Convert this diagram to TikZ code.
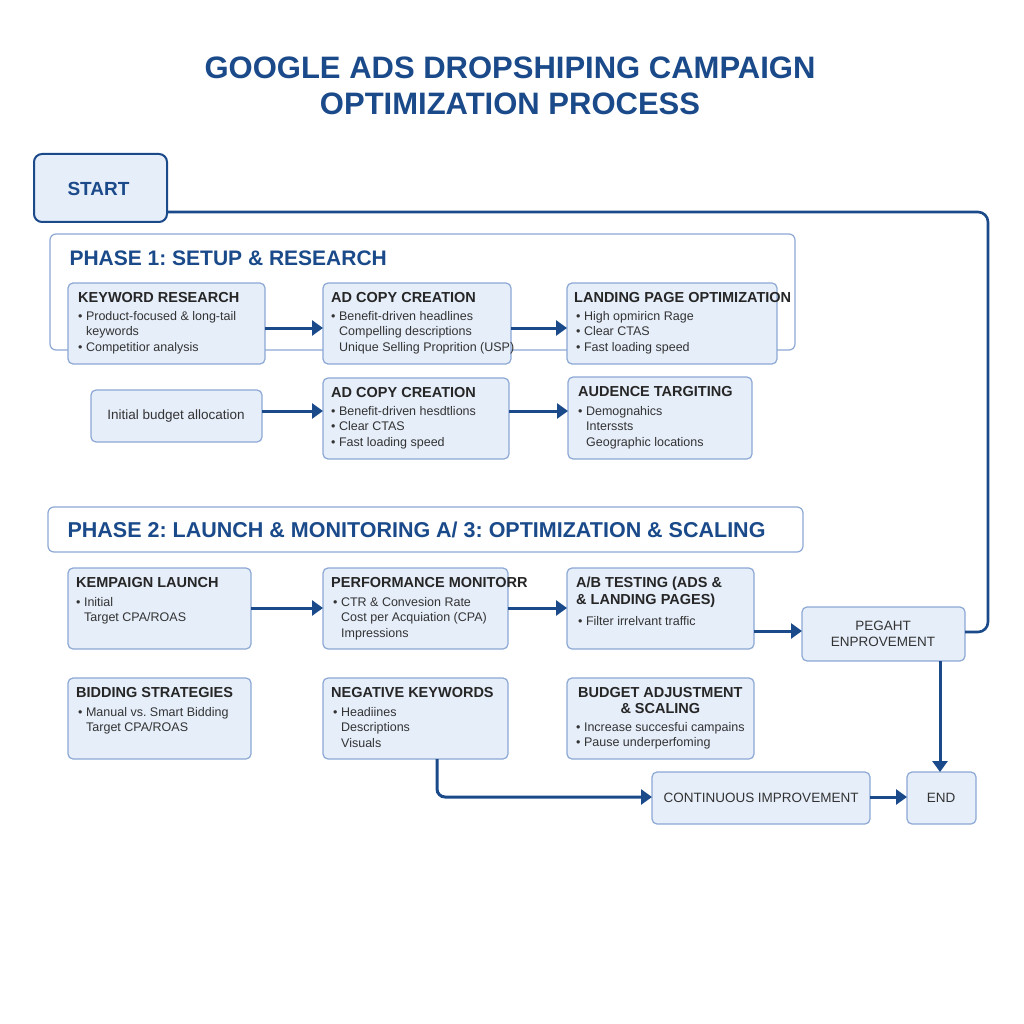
\documentclass[tikz,border=0pt]{standalone}
\usepackage{fontspec}
\setmainfont{Liberation Sans}
\usetikzlibrary{arrows.meta}
\definecolor{navy}{HTML}{1A4A8A}
\definecolor{bfill}{HTML}{E6EEFA}
\definecolor{bdraw}{HTML}{8CA8D4}
\frenchspacing
\begin{document}
\begin{tikzpicture}[x=1pt,y=-1pt,
 box/.style={draw=bdraw,fill=bfill,rounded corners=5pt,line width=1.2pt},
 hd/.style={anchor=north west,font=\fontsize{14.5}{16.5}\selectfont\bfseries,text=black!85,inner sep=0},
 bd/.style={anchor=north west,font=\fontsize{12.5}{15.5}\selectfont,text=black!80,inner sep=0,align=left},
 ct/.style={font=\fontsize{13.5}{16.5}\selectfont,text=black!80,align=center},
 arr/.style={draw=navy,line width=3pt,-{Triangle[length=11pt,width=15pt]}},
 ln/.style={draw=navy,line width=2.6pt,rounded corners=10pt}]
\useasboundingbox (0,0) rectangle (1024,1024);
\fill[white] (0,0) rectangle (1024,1024);
\node[font=\fontsize{31}{36}\selectfont\bfseries,text=navy,align=center] (title) at (510,86) {GOOGLE ADS DROPSHIPING CAMPAIGN\\OPTIMIZATION PROCESS};
% start
\draw[box,draw=navy,line width=2pt,rounded corners=8pt] (34,154) rectangle (167,222);
\node[font=\fontsize{19}{22}\selectfont\bfseries,text=navy,anchor=west] (start) at (64,189) {START};
\coordinate (sr) at (167,212);
% phase 1 frame
\draw[draw=bdraw,fill=white,rounded corners=6pt,line width=1.2pt] (50,234) rectangle (795,350);
\node[font=\fontsize{21}{24}\selectfont\bfseries,text=navy,anchor=west] (p1) at (66,258) {PHASE 1: SETUP \& RESEARCH};
% row 1
\draw[box] (68,283) rectangle (265,364); \coordinate (kr) at (265,328);
\node[hd] (k1) at (78,292) {KEYWORD RESEARCH};
\node[bd] at (78,311) {• Product-focused \& long-tail\\\hspace*{8pt}keywords\\• Competitior analysis};
\draw[box] (323,283) rectangle (511,364); \coordinate (a1l) at (323,328); \coordinate (a1r) at (511,328);
\node[hd] at (331,292) {AD COPY CREATION};
\node[bd] at (331,311) {• Benefit-driven headlines\\\hspace*{8pt}Compelling descriptions\\\hspace*{8pt}Unique Selling Proprition (USP)};
\draw[box] (567,283) rectangle (777,364); \coordinate (lpl) at (567,328);
\node[hd] at (574,292) {LANDING PAGE OPTIMIZATION};
\node[bd] at (576,311) {• High opmiricn Rage\\• Clear CTAS\\• Fast loading speed};
% row 2
\draw[box] (91,390) rectangle (262,442); \coordinate (ibr) at (262,411);
\node[ct] (ib) at (176,416) {Initial budget allocation};
\draw[box] (323,378) rectangle (509,459); \coordinate (a2l) at (323,411); \coordinate (a2r) at (509,411);
\node[hd] at (331,387) {AD COPY CREATION};
\node[bd] at (331,406) {• Benefit-driven hesdtlions\\• Clear CTAS\\• Fast loading speed};
\draw[box] (568,377) rectangle (752,459); \coordinate (aul) at (568,411);
\node[hd] at (578,386) {AUDENCE TARGITING};
\node[bd] at (578,406) {• Demognahics\\\hspace*{8pt}Interssts\\\hspace*{8pt}Geographic locations};
% phase 2 bar
\draw[draw=bdraw,fill=white,rounded corners=6pt,line width=1.2pt] (48,507) rectangle (803,552);
\node[font=\fontsize{21.5}{24}\selectfont\bfseries,text=navy,anchor=west] (p2) at (64,530) {PHASE 2: LAUNCH \& MONITORING A/ 3: OPTIMIZATION \& SCALING};
% row 3
\draw[box] (68,568) rectangle (251,649); \coordinate (kl) at (251,608);
\node[hd] at (76,577) {KEMPAIGN LAUNCH};
\node[bd] at (76,597) {• Initial\\\hspace*{8pt}Target CPA/ROAS};
\draw[box] (323,568) rectangle (508,649); \coordinate (pml) at (323,608); \coordinate (pmr) at (508,608);
\node[hd] at (331,577) {PERFORMANCE MONITORR};
\node[bd] at (333,597) {• CTR \& Convesion Rate\\\hspace*{8pt}Cost per Acquiation (CPA)\\\hspace*{8pt}Impressions};
\draw[box] (567,568) rectangle (754,649); \coordinate (abl) at (567,608); \coordinate (abr) at (754,631);
\node[hd,align=left] at (576,577) {A/B TESTING (ADS \&\\\& LANDING PAGES)};
\node[bd] at (578,616) {• Filter irrelvant traffic};
\draw[box] (802,607) rectangle (965,661); \coordinate (pgl) at (802,631); \coordinate (pgr) at (965,632); \coordinate (pgb) at (940,661);
\node[ct] (pg) at (883,634) {PEGAНT\\ENPROVEMENT};
% row 4
\draw[box] (68,678) rectangle (251,759);
\node[hd] at (76,687) {BIDDING STRATEGIES};
\node[bd] at (78,707) {• Manual vs. Smart Bidding\\\hspace*{8pt}Target CPA/ROAS};
\draw[box] (323,678) rectangle (508,759); \coordinate (nkb) at (437,759);
\node[hd] at (331,687) {NEGATIVE KEYWORDS};
\node[bd] at (333,707) {• Headiines\\\hspace*{8pt}Descriptions\\\hspace*{8pt}Visuals};
\draw[box] (567,678) rectangle (754,759);
\node[hd,align=center] at (578,687) {BUDGET ADJUSTMENT\\\& SCALING};
\node[bd] at (576,722) {• Increase succesfui campains\\• Pause underperfoming};
% bottom
\draw[box] (652,772) rectangle (870,824); \coordinate (cil) at (652,797); \coordinate (cir) at (870,797);
\node[ct] (ci) at (761,798) {CONTINUOUS IMPROVEMENT};
\draw[box] (907,772) rectangle (976,824); \coordinate (enl) at (907,797); \coordinate (ent) at (940,772);
\node[ct] (en) at (941,798) {END};
% connectors
\draw[ln] (sr) -- (988,212) -- (988,632) -- (pgr);
\draw[arr] (kr) -- (a1l);
\draw[arr] (a1r) -- (lpl);
\draw[arr] (ibr) -- (a2l);
\draw[arr] (a2r) -- (aul);
\draw[arr] (kl) -- (pml);
\draw[arr] (pmr) -- (abl);
\draw[arr] (abr) -- (pgl);
\draw[arr] (pgb) -- (ent);
\draw[arr,rounded corners=8pt] (nkb) -- (437,797) -- (cil);
\draw[arr] (cir) -- (enl);
\end{tikzpicture}
\end{document}
